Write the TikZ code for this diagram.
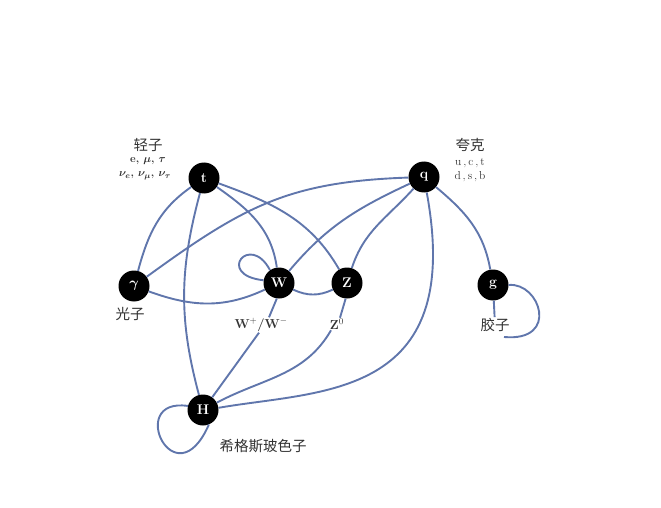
\documentclass[tikz,border=0pt]{standalone}
\usepackage{fontspec}
\newfontfamily\cjk{Noto Sans CJK SC}
\definecolor{edgeblue}{RGB}{96,118,172}
\definecolor{labgray}{RGB}{50,50,50}
\begin{document}
\begin{tikzpicture}[x=1pt,y=1pt]
\tikzset{
  particle/.style={circle, fill=black, minimum size=31pt, inner sep=0pt, text=white, font=\bfseries\boldmath\fontsize{14}{15}\selectfont},
  cjklab/.style={text=labgray, inner sep=1pt, font=\cjk\fontsize{14.5}{16}\selectfont},
  smalllab/.style={text=labgray, inner sep=1pt, font=\bfseries\boldmath\fontsize{11}{12}\selectfont},
  conn/.style={draw=edgeblue, line width=1.9pt}
}
\useasboundingbox (0,0) rectangle (661,507);
% particles
\node[particle] (t) at (204,329) {t};
\node[particle] (q) at (424,330) {q};
\node[particle] (ga) at (134,221) {$\gamma$};
\node[particle] (W) at (279,224) {W};
\node[particle] (Z) at (347,224) {Z};
\node[particle] (g) at (493,222) {g};
\node[particle] (H) at (203,97) {H};
% labels
\node[cjklab] (lep) at (148,362) {轻子};
\node[smalllab] (lep1) at (148,346) {e, $\mu$, $\tau$};
\node[smalllab] (lep2) at (145,331) {$\nu_e$, $\nu_\mu$, $\nu_\tau$};
\node[cjklab] (qua) at (470,362) {夸克};
\node[smalllab, font=\fontsize{11.5}{12}\selectfont] (qua1) at (470,344) {u\,,\,c\,,\,t};
\node[smalllab, font=\fontsize{11.5}{12}\selectfont] (qua2) at (470,330) {d\,,\,s\,,\,b};
\node[cjklab] (pho) at (130,193) {光子};
\node[smalllab, font=\bfseries\fontsize{13}{14}\selectfont] (wl) at (261,182) {W$^+$/W$^-$};
\node[smalllab, font=\bfseries\fontsize{13}{14}\selectfont] (zl) at (337,183) {Z$^0$};
\node[cjklab] (glu) at (495,182) {胶子};
\node[cjklab] (hig) at (263,61) {希格斯玻色子};
\coordinate (gend) at (504,170);
% connectors
\draw[conn] (t) to[out=215,in=75] (ga);
\draw[conn] (ga) to[out=36,in=182,looseness=1.1] (q);
\draw[conn] (ga) to[out=-20,in=205] (W);
\draw[conn] (t) to[out=-35,in=98] (W);
\draw[conn] (t) to[out=-20,in=120] (Z);
\draw[conn] (t) to[out=255,in=105] (H);
\draw[conn] (W.125) .. controls (250,275) and (215,232) .. (W.170);
\draw[conn] (W) to[out=-25,in=205] (Z);
\draw[conn] (q) to[out=205,in=50] (W);
\draw[conn] (q) to[out=228,in=72] (Z);
\draw[conn] (q.-80) .. controls (465,107) and (320,117) .. (H.8);
\draw[conn] (q) to[out=-40,in=100] (g);
\draw[conn] (g.east) .. controls (540,225) and (560,165) .. (gend);
\draw[conn] (g) -- (glu);
\draw[conn] (W.262) -- ([xshift=8pt]wl.north);
\draw[conn] ([xshift=-2pt]wl.south) -- (H);
\draw[conn] (Z.265) -- ([xshift=3pt]zl.north);
\draw[conn] ([xshift=-6pt]zl.south) to[out=240,in=28] (H);
\draw[conn] (H.165) .. controls (125,110) and (175,5) .. (H.-68);
\end{tikzpicture}
\end{document}
